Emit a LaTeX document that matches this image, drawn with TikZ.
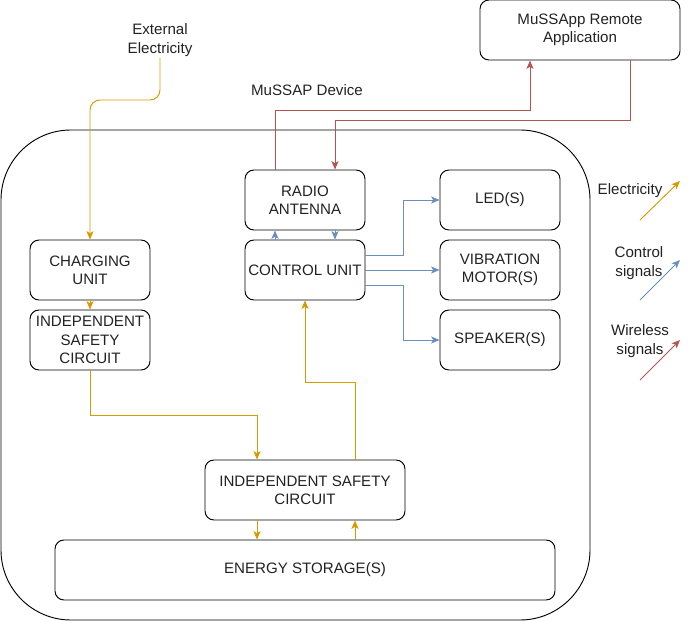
\documentclass[tikz,border=0pt]{standalone}
\usepackage{fontspec}
\setmainfont{Liberation Sans}
\usepackage{xcolor}
\usepackage{tikz}
\usetikzlibrary{calc, arrows.meta, positioning}

\definecolor{elecC}{HTML}{D79B00}
\definecolor{ctrlC}{HTML}{6C8EBF}
\definecolor{wireC}{HTML}{B85450}
\definecolor{textC}{HTML}{222222}

\begin{document}
\begin{tikzpicture}[x=0.03cm, y=-0.03cm, >={Stealth[length=2.5mm, width=2.1mm, inset=0.6mm]},
    font=\fontsize{12.9pt}{15.6pt}\selectfont, text=textC, line width=0.8pt,
    box/.style={draw=black, rounded corners=0.27cm, align=center,
                minimum width=3.6cm, minimum height=1.8cm, inner sep=1pt},
    lbl/.style={align=center, inner sep=1pt},
    elec/.style={draw=elecC, line width=0.8pt},
    ctrl/.style={draw=ctrlC, line width=0.8pt},
    wire/.style={draw=wireC, line width=0.8pt}]
    % Khung ảnh
    \useasboundingbox (0,0) rectangle (689,621);

    % Thiết bị (khung ngoài) và các nhãn
    \node[draw=black, rounded corners=2.1cm, minimum width=17.67cm, minimum height=14.7cm] (dev) at (295.5,375) {};
    \node[lbl] (ext) at (160,40) {External\\Electricity};
    \node[lbl] (devlbl) at (307,90) {MuSSAP Device};
    \node[box, minimum width=6cm] (app) at (580,30) {MuSSApp Remote\\Application};

    % Các khối bên trong
    \node[box] (chg) at (90,270) {CHARGING\\UNIT};
    \node[box] (isc1) at (90,340) {INDEPENDENT\\SAFETY\\CIRCUIT};
    \node[box] (ra) at (305,200) {RADIO\\ANTENNA};
    \node[box] (cu) at (305,270) {CONTROL UNIT};
    \node[box] (led) at (500,200) {LED(S)};
    \node[box] (vib) at (500,270) {VIBRATION\\MOTOR(S)};
    \node[box] (spk) at (500,340) {SPEAKER(S)};
    \node[box, minimum width=6cm] (isc2) at (305,490) {INDEPENDENT SAFETY\\CIRCUIT};
    \node[box, minimum width=15cm] (es) at (305,570) {ENERGY STORAGE(S)};

    % Điện (màu vàng)
    \draw[elec, ->, rounded corners=0.3cm] (ext.south) -- (ext.south |- 0,100) -| (chg.north);
    \draw[elec, ->] (chg) -- (isc1);
    \coordinate (a0) at ($(isc2.north)+(-48,0)$);
    \draw[elec, ->] (isc1.south) -- (isc1.south |- 0,415) -| (a0);
    \coordinate (a1) at ($(isc2.south)+(-48,0)$);
    \draw[elec, ->] (a1) -- (a1 |- es.north);
    \coordinate (a2) at ($(isc2.south)+(50,0)$);
    \draw[elec, ->] (a2 |- es.north) -- (a2);
    \coordinate (a3) at ($(isc2.north)+(50,0)$);
    \draw[elec, ->] (a3) -- (a3 |- 0,382) -| (cu.south);

    % Tín hiệu điều khiển (màu xanh)
    \coordinate (b1) at ($(cu.north)+(-30,0)$);
    \draw[ctrl, ->] (b1) -- (b1 |- ra.south);
    \coordinate (b2) at ($(ra.south)+(30,0)$);
    \draw[ctrl, ->] (b2) -- (b2 |- cu.north);
    \coordinate (d1) at ($(cu.east)+(0,-15)$);
    \draw[ctrl, ->] (d1) -- ++(38,0) |- (led.west);
    \draw[ctrl, ->] (cu.east) -- (vib.west);
    \coordinate (d2) at ($(cu.east)+(0,15)$);
    \draw[ctrl, ->] (d2) -- ++(38,0) |- (spk.west);

    % Tín hiệu không dây (màu đỏ)
    \coordinate (c1) at ($(ra.north)+(-30,0)$);
    \draw[wire, ->] (c1) -- (c1 |- 0,110) -| ($(app.south)+(-50,0)$);
    \coordinate (c2) at ($(app.south)+(50,0)$);
    \coordinate (c3) at ($(ra.north)+(30,0)$);
    \draw[wire, ->] (c2) -- (c2 |- 0,120) -| (c3);

    % Chú thích
    \node[lbl] (leg1) at (630,191) {Electricity};
    \coordinate (e1) at (640,220);
    \coordinate (e2) at (680,181);
    \draw[elec, ->] (e1) -- (e2);
    \node[lbl] (leg2) at (639,263) {Control\\signals};
    \coordinate (f1) at (640,300);
    \coordinate (f2) at (680,260);
    \draw[ctrl, ->] (f1) -- (f2);
    \node[lbl] (leg3) at (640,341) {Wireless\\signals};
    \coordinate (g1) at (640,380);
    \coordinate (g2) at (680,340);
    \draw[wire, ->] (g1) -- (g2);
\end{tikzpicture}
\end{document}
